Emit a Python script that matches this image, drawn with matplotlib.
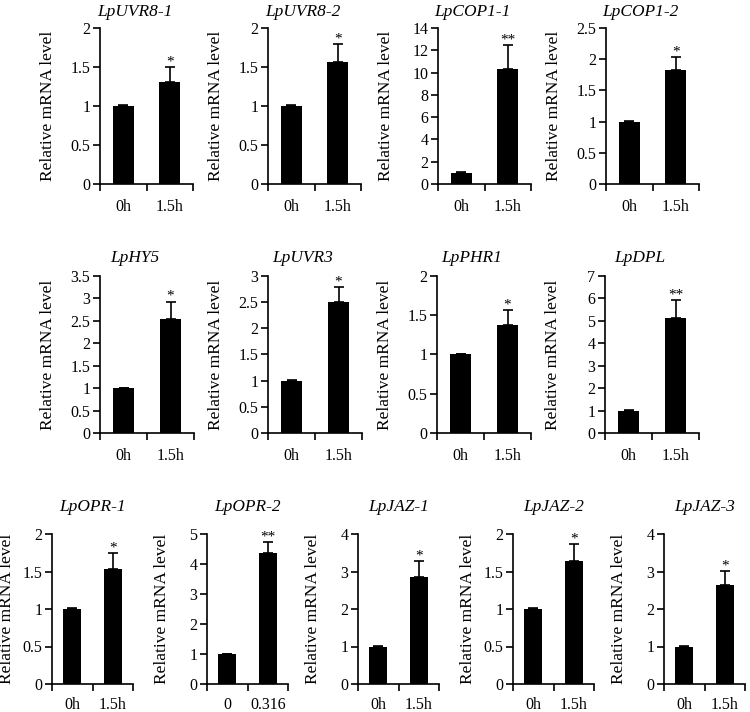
import matplotlib
matplotlib.use("Agg")
import matplotlib.pyplot as plt

plt.rcParams['font.family'] = ['Liberation Serif', 'DejaVu Serif']

# data, one entry per gene panel
genes = ['LpUVR8-1', 'LpUVR8-2', 'LpCOP1-1', 'LpCOP1-2',
         'LpHY5', 'LpUVR3', 'LpPHR1', 'LpDPL',
         'LpOPR-1', 'LpOPR-2', 'LpJAZ-1', 'LpJAZ-2', 'LpJAZ-3']
ctrl_mean = [1.0, 1.0, 1.0, 1.0, 1.0, 1.0, 1.0, 1.0, 1.0, 1.0, 1.0, 1.0, 1.0]
ctrl_err = [0.01, 0.01, 0.06, 0.01, 0.01, 0.01, 0.01, 0.03, 0.01, 0.01, 0.01, 0.01, 0.01]
uv_mean = [1.31, 1.56, 10.34, 1.82, 2.55, 2.50, 1.37, 5.14, 1.54, 4.38, 2.86, 1.64, 2.65]
uv_err = [0.19, 0.23, 2.10, 0.21, 0.38, 0.29, 0.20, 0.79, 0.21, 0.34, 0.42, 0.23, 0.37]
stars = ['*', '*', '**', '*', '*', '*', '*', '**', '*', '**', '*', '*', '*']
ymax = [2, 2, 14, 2.5, 3.5, 3, 2, 7, 2, 5, 4, 2, 4]
ystep = [0.5, 0.5, 2, 0.5, 0.5, 0.5, 0.5, 1, 0.5, 1, 1, 0.5, 1]
xlabels = [['0h', '1.5h']] * 9 + [['0', '0.316']] + [['0h', '1.5h']] * 3

# panel layout in pixels: (left, top, width, height)
W, H = 750, 712
boxes = ([(x, 28, 93, 156) for x in (100, 268, 438, 606)] +
         [(x, 276, 94, 157) for x in (100, 268, 437, 605)] +
         [(x, 534, 81, 150) for x in (52, 207, 358, 513, 664)])
title_gap = [16] * 4 + [18] * 4 + [27] * 5
title_shift = [-12] * 8 + [0] * 5
ylab_off = [44] * 8 + [37] * 5
xpad = [11] * 8 + [9.5] * 5

fig = plt.figure(figsize=(W / 100, H / 100), dpi=100)

for i, g in enumerate(genes):
    l, t, w, h = boxes[i]
    ax = fig.add_axes([l / W, 1 - (t + h) / H, w / W, h / H])
    means = [ctrl_mean[i], uv_mean[i]]
    errs = [ctrl_err[i], uv_err[i]]
    ax.bar([0, 1], means, width=0.45, color='black', zorder=2)
    ax.errorbar([0, 1], means, yerr=[[0, 0], errs], fmt='none',
                ecolor='black', elinewidth=1.2, capsize=3.5, capthick=1.2, zorder=3)
    ax.annotate(stars[i], (1, uv_mean[i] + uv_err[i]), xytext=(0, -1),
                textcoords='offset points', ha='center', va='bottom', fontsize=11)

    ax.set_xlim(-0.5, 1.5)
    ax.set_ylim(0, ymax[i])
    n = round(ymax[i] / ystep[i])
    ticks = [k * ystep[i] for k in range(n + 1)]
    ax.set_yticks(ticks)
    ax.set_yticklabels(['%g' % v for v in ticks])
    ax.set_xticks([-0.5, 0.5, 1.5])
    ax.set_xticklabels([])
    ax.set_xticks([0, 1], minor=True)
    ax.set_xticklabels(xlabels[i], minor=True)
    ax.tick_params(axis='x', which='minor', length=0, pad=xpad[i], labelsize=11.5)
    ax.tick_params(axis='x', which='major', direction='out', length=5, width=1.2)
    ax.tick_params(axis='y', direction='out', length=5, width=1.2, pad=2,
                   labelsize=11.5)
    for s in ('top', 'right'):
        ax.spines[s].set_visible(False)
    for s in ('left', 'bottom'):
        ax.spines[s].set_linewidth(1.2)

    ax.set_ylabel('Relative mRNA level', fontsize=12.5)
    ax.yaxis.set_label_coords(-ylab_off[i] / w, 0.5)

    fig.text((l + w / 2 + title_shift[i]) / W, 1 - (t - title_gap[i]) / H, g,
             ha='center', va='center', fontsize=12.5, style='italic')

fig.savefig('out.png', dpi=100, facecolor='white')
